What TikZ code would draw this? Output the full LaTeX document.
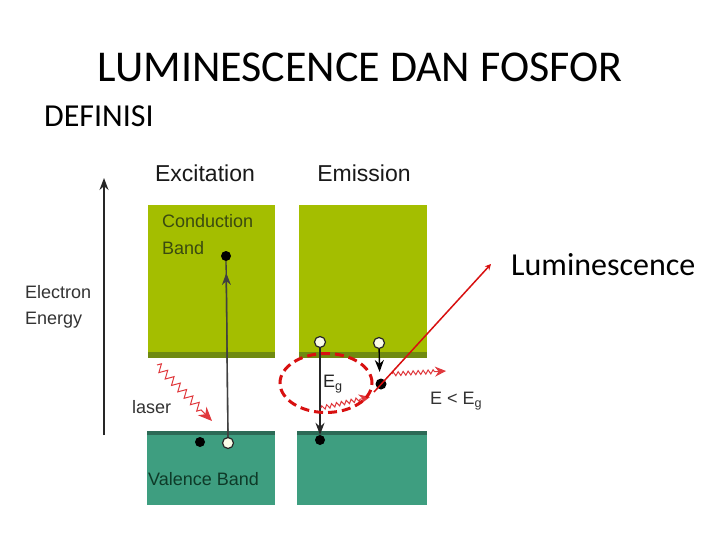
\documentclass[tikz,border=0pt]{standalone}
\usepackage{fontspec}
\setmainfont{Carlito}
\newfontfamily\arialf{Liberation Sans}
\usetikzlibrary{arrows.meta,decorations.pathmorphing,shapes.geometric}
\definecolor{cband}{HTML}{A4BE00}
\definecolor{cedge}{HTML}{6F8A10}
\definecolor{vband}{HTML}{3E9E80}
\definecolor{vedge}{HTML}{2C6A56}
\definecolor{ctext}{HTML}{3A4A10}
\definecolor{vtext}{HTML}{0E3A28}
\definecolor{wavy}{HTML}{E0383C}
\definecolor{redm}{HTML}{D81010}
\definecolor{holefill}{HTML}{FAFCE8}
\tikzset{
  lbl/.style={font=\arialf\fontsize{18}{20}\selectfont, inner sep=0pt},
  head/.style={font=\arialf\fontsize{23}{25}\selectfont, inner sep=0pt},
  elec/.style={circle, fill=black, minimum size=10pt, inner sep=0pt},
  hole/.style={circle, draw=black!85, line width=1.2pt, fill=holefill, minimum size=11pt, inner sep=0pt},
  wave/.style={wavy, line width=1pt, decorate, decoration={zigzag, amplitude=2pt, segment length=5pt, post length=10pt}, -{Stealth[length=11pt,width=10pt]}},
  darr/.style={line width=1.4pt, black!85, -{Stealth[length=12pt,width=9pt]}},
}
\begin{document}
\begin{tikzpicture}[x=1pt,y=-1pt]
\useasboundingbox (0,0) rectangle (720,540);
\fill[white] (0,0) rectangle (720,540);
% titles
\node[font=\fontsize{44}{48}\selectfont, inner sep=0pt] (title) at (360,67) {LUMINESCENCE DAN FOSFOR};
\node[font=\fontsize{32}{36}\selectfont, inner sep=0pt, anchor=west] (def) at (44,116) {DEFINISI};
\node[font=\fontsize{32}{36}\selectfont, inner sep=0pt, anchor=west] (lum) at (511,265) {Luminescence};
% axis
\coordinate (axb) at (104,435);
\coordinate (axt) at (104,178);
\draw[darr, line width=1.5pt] (axb) -- (axt);
\node[lbl, anchor=west, align=left, text=black!80] (ee) at (25,307) {Electron\\[6pt]Energy};
% headings
\node[head, text=black!90] (exc) at (205,173) {Excitation};
\node[head, text=black!90] (emi) at (364,173) {Emission};
% bands
\fill[cband] (148,205) rectangle (275,357);
\fill[cedge] (148,352) rectangle (275,358);
\fill[cband] (299,205) rectangle (427,357);
\fill[cedge] (299,352) rectangle (427,358);
\fill[vband] (147,431) rectangle (275,505);
\fill[vedge] (147,431) rectangle (275,435);
\fill[vband] (297,431) rectangle (427,505);
\fill[vedge] (297,431) rectangle (427,435);
\node[lbl, anchor=north west, align=left, text=ctext] (cb) at (162,214) {Conduction\\[7pt]Band};
\node[lbl, anchor=west, text=vtext] (vb) at (148,479) {Valence Band};
% excitation
\node[elec] (e1) at (226,256) {};
\node[elec] (e2) at (200,442) {};
\node[hole] (h1) at (228,443) {};
\draw[line width=1.3pt, black!75] (h1) -- (e1);
\draw[darr, black!75] (h1) -- (226.3,273);
\coordinate (ls) at (157,365);
\coordinate (le) at (212,421);
\draw[wave, decoration={amplitude=4pt, segment length=9pt, post length=12pt}, -{Stealth[length=14pt,width=12pt]}] (ls) -- (le);
\node[lbl, anchor=west, text=black!80] (las) at (132,407) {laser};
% emission
\node[hole] (h2) at (320,342) {};
\node[elec] (e3) at (320,440) {};
\draw[darr] (h2) -- (e3);
\node[hole] (h3) at (379,343) {};
\node[elec, minimum size=11pt] (e4) at (381,384) {};
\draw[darr, black] (h3) -- (379.6,372);
\node[lbl, anchor=west, text=black!85] (eg) at (323,384) {E\textsubscript{g}};
\coordinate (w1s) at (321,408);
\coordinate (w1e) at (370,397);
\draw[wave] (w1s) -- (w1e);
\coordinate (w2s) at (392,374);
\coordinate (w2e) at (446,371);
\draw[wave] (w2s) -- (w2e);
\node[lbl, anchor=west, text=black!80] (elt) at (430,401) {E \textless{} E\textsubscript{g}};
% red annotations
\node[draw=redm, line width=3pt, dash pattern=on 9pt off 5pt, ellipse, minimum width=92pt, minimum height=59pt, inner sep=0pt] (ell) at (326,383) {};
\coordinate (pt) at (491,264);
\coordinate (pb) at (374,392);
\draw[redm, line width=1.5pt, -{Stealth[length=6pt,width=6pt]}] (pb) -- (pt);
\end{tikzpicture}
\end{document}
